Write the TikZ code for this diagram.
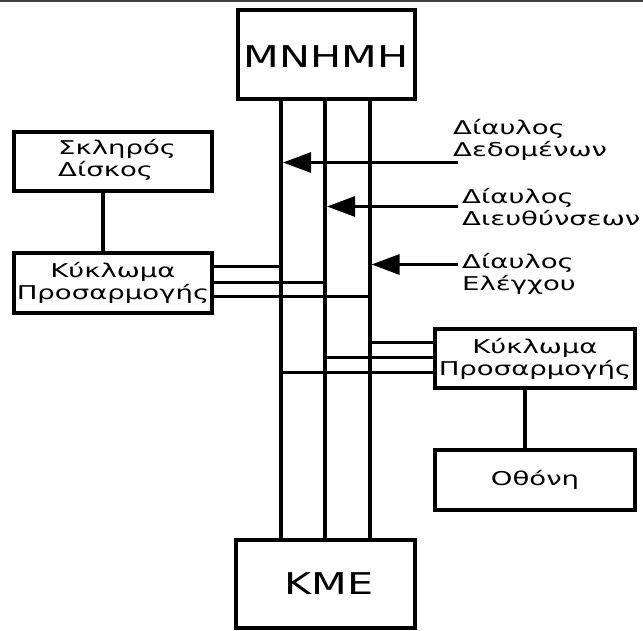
\documentclass[tikz,border=0pt]{standalone}
\usepackage{fontspec}
\usetikzlibrary{arrows.meta,calc}
\newfontfamily\grfont[FakeStretch=1.45]{DejaVu Sans}
\newfontfamily\grbig[FakeStretch=1.38]{DejaVu Sans}
\begin{document}
\begin{tikzpicture}[x=1pt,y=-1pt,
  unit/.style={draw,line width=4pt,inner sep=0pt,align=center},
  bigtext/.style={font=\grbig\fontsize{30}{34}\selectfont},
  smalltext/.style={font=\grfont\fontsize{19}{22}\selectfont},
  busline/.style={line width=4pt},
  tap/.style={line width=3pt},
  link/.style={line width=4pt},
  busarrow/.style={line width=3pt,-{Triangle[length=28pt,width=20pt]}},
  buslabel/.style={smalltext,align=left,anchor=west,inner sep=0pt}]
\useasboundingbox (0,0) rectangle (643,630);
\fill[black!75] (0,0) rectangle (643,1.5);

% main blocks
\node[unit,minimum width=177pt,minimum height=89pt] (mem) at (326.5,54.5) {};
\node[bigtext] (memtxt) at (326,57) {MNHMH};
\node[unit,minimum width=179pt,minimum height=88pt] (cpu) at (325.5,584) {};
\node[bigtext] (cputxt) at (329,584) {KME};

% peripherals
\node[unit,minimum width=198pt,minimum height=59pt] (disk) at (113,161) {};
\node[smalltext,align=left,anchor=west,inner sep=0pt] (disktxt) at (58,160) {Σκληρός\\Δίσκος};
\node[unit,smalltext,minimum width=198pt,minimum height=60pt] (adL) at (113,283) {Κύκλωμα\\Προσαρμογής};
\node[unit,smalltext,minimum width=200pt,minimum height=59pt] (adR) at (535,358.5) {Κύκλωμα\\Προσαρμογής};
\node[unit,smalltext,minimum width=200pt,minimum height=60pt] (screen) at (535,479.5) {Οθόνη};

\draw[link] (disk.south -| 103,0) -- (adL.north -| 103,0);
\draw[link] (adR.south -| 525,0) -- (screen.north -| 525,0);

% the three buses
\coordinate (b1) at (281,0);
\coordinate (b2) at (325,0);
\coordinate (b3) at (369.5,0);
\foreach \b in {b1,b2,b3}
  \draw[busline] (mem.south -| \b) -- (cpu.north -| \b);

% adapter taps onto the buses
\draw[tap] (adL.east |- 0,266.5) -- (b1 |- 0,266.5);
\draw[tap] (adL.east |- 0,282.5) -- (b2 |- 0,282.5);
\draw[tap] (adL.east |- 0,296.5) -- (b3 |- 0,296.5);
\draw[tap] (adR.west |- 0,342.5) -- (b3 |- 0,342.5);
\draw[tap] (adR.west |- 0,357.5) -- (b2 |- 0,357.5);
\draw[tap] (adR.west |- 0,372) -- (b1 |- 0,372);

% bus labels and arrows
\coordinate (s1) at (458,162.5);
\coordinate (s2) at (458,206.5);
\coordinate (s3) at (458,264.5);
\draw[busarrow] (s1) -- ($(b1 |- s1)+(2,0)$);
\draw[busarrow] (s2) -- ($(b2 |- s2)+(2,0)$);
\draw[busarrow] (s3) -- ($(b3 |- s3)+(2,0)$);
\node[buslabel] (l1) at (453,139.5) {Δίαυλος\\Δεδομένων};
\node[buslabel] (l2) at (462,207) {Δίαυλος\\Διευθύνσεων};
\node[buslabel] (l3) at (462,274) {Δίαυλος\\Ελέγχου};
\end{tikzpicture}
\end{document}
